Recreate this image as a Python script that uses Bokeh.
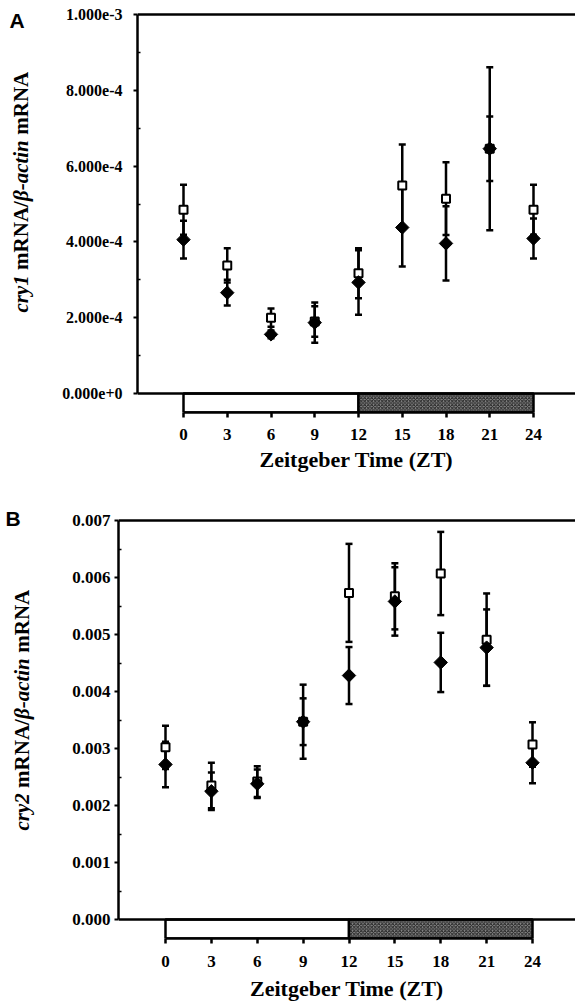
import numpy as np
from bokeh.plotting import figure
from bokeh.models import (Range1d, Whisker, TeeHead, ColumnDataSource, Span,
                          PrintfTickFormatter, FixedTicker)
from bokeh.core.properties import value
from bokeh.layouts import column, row
from bokeh.embed import file_html
from bokeh.resources import INLINE

# ---------------- data ----------------
zt = [0, 3, 6, 9, 12, 15, 18, 21, 24]
zt_ticks = [0, 3, 6, 9, 12, 15, 18, 21, 24]
light_start = [0]
light_end = [12]
dark_start = [12]
dark_end = [24]

# panel A: cry1 / beta-actin
cry1_open = [4.85e-4, 3.38e-4, 2.00e-4, 1.90e-4, 3.17e-4, 5.49e-4, 5.14e-4, 6.46e-4, 4.85e-4]
cry1_open_err = [0.66e-4, 0.45e-4, 0.24e-4, 0.40e-4, 0.66e-4, 1.08e-4, 0.96e-4, 0.85e-4, 0.66e-4]
cry1_filled = [4.06e-4, 2.66e-4, 1.56e-4, 1.87e-4, 2.93e-4, 4.38e-4, 3.96e-4, 6.46e-4, 4.09e-4]
cry1_filled_err = [0.50e-4, 0.34e-4, 0.10e-4, 0.53e-4, 0.85e-4, 1.03e-4, 0.98e-4, 2.15e-4, 0.53e-4]
cry1_yticks = [0.0, 2e-4, 4e-4, 6e-4, 8e-4, 1e-3]
cry1_yminor = [1e-4, 3e-4, 5e-4, 7e-4, 9e-4]

# panel B: cry2 / beta-actin
cry2_open = [0.00302, 0.00235, 0.00242, 0.00347, 0.00573, 0.00567, 0.00607, 0.00491, 0.00307]
cry2_open_err = [0.00038, 0.00040, 0.00027, 0.00065, 0.00086, 0.00058, 0.00073, 0.00081, 0.00039]
cry2_filled = [0.00272, 0.00225, 0.00238, 0.00347, 0.00428, 0.00558, 0.00451, 0.00477, 0.00275]
cry2_filled_err = [0.00040, 0.00033, 0.00025, 0.00041, 0.00050, 0.00060, 0.00052, 0.00067, 0.00036]
cry2_yticks = [0.0, 0.001, 0.002, 0.003, 0.004, 0.005, 0.006, 0.007]
cry2_yminor = [0.0005, 0.0015, 0.0025, 0.0035, 0.0045, 0.0055, 0.0065]

SERIF = "Liberation Serif"
SANS = "Liberation Sans"
LAB_W = 44      # width of the strip that holds the rotated y title and panel letter
PAGE_W = 575

# approximate Times-bold advance widths (em) for laying out the mixed-style y title
EM = {"c": .444, "r": .389, "y": .444, "1": .5, "2": .5, "m": .833, "R": .722, "N": .722,
      "A": .722, "/": .278, "β": .52, "-": .333, "a": .5, "t": .278, "i": .278, "n": .556}


def text_w(s, fs):
    return sum(EM.get(ch, .5) for ch in s) * fs


def layout_numbers(geo):
    frame_h = geo["ybar"] - geo["fig_top"]          # frame starts at the figure top
    mb_bottom = geo["fig_h"] - frame_h
    return frame_h, mb_bottom


def label_strip(geo, gene, letter):
    frame_h, mb_bottom = layout_numbers(geo)
    s = figure(width=LAB_W, height=geo["fig_h"], output_backend="svg", toolbar_location=None,
               x_axis_location=None, y_axis_location=None, title=None,
               x_range=Range1d(0, LAB_W), y_range=Range1d(0, frame_h),
               min_border_left=0, min_border_right=0, min_border_top=0,
               min_border_bottom=mb_bottom)
    s.grid.visible = False
    s.outline_line_color = None
    sy = lambda page_y: geo["ybar"] - page_y
    fs = 21
    parts = [(gene, "bold italic"), ("mRNA/", "bold"), ("β-actin", "bold italic"), ("mRNA", "bold")]
    gaps = [0.25 * fs, 0, 0.25 * fs, 0]
    pos = geo["ylab_start"]
    for (txt, style), gap in zip(parts, gaps):
        s.text(x=[geo["ylab_x"]], y=[sy(pos)], text=[txt], angle=np.pi / 2,
               text_font=value(SERIF), text_font_style=style, text_font_size=f"{fs}px",
               text_align="left", text_baseline="middle", text_color="black")
        pos -= text_w(txt, fs) + gap
    s.text(x=[geo["letter_x"]], y=[sy(geo["letter_y"])], text=[letter],
           text_font=value(SANS), text_font_style="bold", text_font_size="21px",
           text_align="left", text_baseline="top", text_color="black")
    return s


def panel(geo, ymax, yticks, yminor, fmt, op, op_err, fl, fl_err):
    fig_top, fig_h = geo["fig_top"], geo["fig_h"]
    left, x0, x24 = geo["left"], geo["x0"], geo["x24"]
    ytop, yzero, ybar = geo["ytop"], geo["yzero"], geo["ybar"]
    xpp = 24.0 / (x24 - x0)
    ypp = ymax / (yzero - ytop)
    dx = lambda px: (px - x0) * xpp
    dy = lambda py: (yzero - py) * ypp
    frame_h, mb_bottom = layout_numbers(geo)

    p = figure(width=PAGE_W - LAB_W, height=fig_h, output_backend="svg", toolbar_location=None,
               x_range=Range1d(dx(left), dx(PAGE_W)), y_range=Range1d(dy(ybar), dy(fig_top)),
               min_border_left=left - LAB_W, min_border_right=0,
               min_border_top=0, min_border_bottom=mb_bottom)
    p.outline_line_color = None
    p.grid.visible = False

    # light/dark bar
    bar_bottom = p.y_range.start
    p.quad(left=light_start, right=light_end, bottom=bar_bottom, top=0,
           fill_color="white", line_color="black", line_width=2.5)
    p.quad(left=dark_start, right=dark_end, bottom=bar_bottom, top=0,
           fill_color="#8a8a8a", hatch_pattern="diagonal_cross", hatch_color="#222222",
           hatch_scale=3.5, hatch_weight=1, line_color="black", line_width=2.5)

    p.add_layout(Span(location=0, dimension="width", line_color="black", line_width=2.5))
    p.add_layout(Span(location=ymax, dimension="width", line_color="black", line_width=2.5))

    # error bars
    for vals, errs in ((op, op_err), (fl, fl_err)):
        src = ColumnDataSource(dict(x=zt, upper=[v + e for v, e in zip(vals, errs)],
                                    lower=[v - e for v, e in zip(vals, errs)]))
        p.add_layout(Whisker(source=src, base="x", upper="upper", lower="lower",
                             line_color="black", line_width=2.5,
                             upper_head=TeeHead(size=7, line_width=2.5, line_color="black"),
                             lower_head=TeeHead(size=7, line_width=2.5, line_color="black")))

    p.scatter(zt, op, marker="square", size=8, fill_color="white", line_color="black", line_width=2)
    p.scatter(zt, fl, marker="square", angle=np.pi / 4, size=9.5, fill_color="black", line_color="black")

    # axes
    xa = p.xaxis[0]
    xa.ticker = FixedTicker(ticks=zt_ticks)
    xa.bounds = (0, 24)
    xa.axis_line_width = 2.5
    xa.major_tick_line_width = 2.5
    xa.major_tick_out = 5
    xa.major_tick_in = 0
    xa.minor_tick_line_color = None
    xa.major_label_text_font = SERIF
    xa.major_label_text_font_style = "bold"
    xa.major_label_text_font_size = "17px"
    xa.major_label_text_color = "black"
    xa.major_label_standoff = geo["xlab_standoff"]
    xa.axis_label = "Zeitgeber Time (ZT)"
    xa.axis_label_text_font = SERIF
    xa.axis_label_text_font_style = "bold"
    xa.axis_label_text_font_size = "22px"
    xa.axis_label_text_color = "black"
    xa.axis_label_standoff = geo["xtitle_standoff"]

    ya = p.yaxis[0]
    ya.ticker = FixedTicker(ticks=yticks, minor_ticks=yminor)
    ya.formatter = PrintfTickFormatter(format=fmt)
    ya.bounds = (0, ymax)
    ya.axis_line_width = 2.5
    ya.major_tick_line_width = 2
    ya.major_tick_out = 4
    ya.major_tick_in = 0
    ya.minor_tick_line_width = 1.5
    ya.minor_tick_out = 0
    ya.minor_tick_in = 3
    ya.major_label_text_font = SERIF
    ya.major_label_text_font_style = "bold"
    ya.major_label_text_font_size = geo["ytick_fs"]
    ya.major_label_text_color = "black"
    ya.major_label_standoff = geo["ylab_standoff"]
    return p


geoA = dict(fig_top=0, fig_h=484, left=137, x0=183, x24=533, ytop=14, yzero=393, ybar=412,
            xlab_standoff=11, xtitle_standoff=4, ytick_fs="16px", ylab_standoff=11,
            ylab_start=312, ylab_x=20, letter_x=9, letter_y=8)
geoB = dict(fig_top=484, fig_h=521, left=118, x0=165, x24=532, ytop=520, yzero=919, ybar=938,
            xlab_standoff=12, xtitle_standoff=6, ytick_fs="17px", ylab_standoff=4,
            ylab_start=830, ylab_x=21, letter_x=5, letter_y=506)

pA = panel(geoA, 1e-3, cry1_yticks, cry1_yminor, "%.3e",
           cry1_open, cry1_open_err, cry1_filled, cry1_filled_err)
pB = panel(geoB, 0.007, cry2_yticks, cry2_yminor, "%.3f",
           cry2_open, cry2_open_err, cry2_filled, cry2_filled_err)

layout = column(row(label_strip(geoA, "cry1", "A"), pA, spacing=0),
                row(label_strip(geoB, "cry2", "B"), pB, spacing=0), spacing=0)
open("out.html", "w").write(file_html(layout, INLINE))
